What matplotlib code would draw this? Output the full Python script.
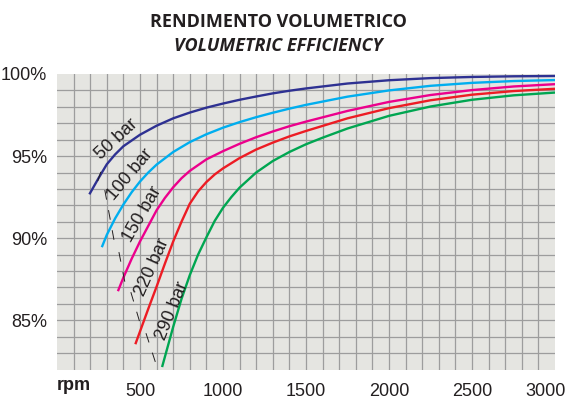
import numpy as np
import matplotlib.pyplot as plt
import matplotlib.transforms as mtransforms

# curve data (rpm, volumetric efficiency %)
rpm_50 = [195, 250, 300, 350, 400, 500, 600, 700, 800, 900, 1000, 1100, 1200, 1300, 1400, 1500,
          1750, 2000, 2250, 2500, 2750, 3000]
eff_50 = [92.67, 93.65, 94.5, 95.1, 95.6, 96.3, 96.85, 97.3, 97.65, 97.95, 98.2, 98.43, 98.63, 98.82,
          98.98, 99.12, 99.42, 99.62, 99.75, 99.82, 99.86, 99.88]

rpm_100 = [270, 300, 350, 400, 450, 500, 550, 600, 700, 800, 900, 1000, 1100, 1200, 1300, 1400, 1500,
           1750, 2000, 2250, 2500, 2750, 3000]
eff_100 = [89.45, 90.2, 91.2, 92.05, 92.8, 93.45, 94.0, 94.48, 95.25, 95.85, 96.33, 96.73, 97.07,
           97.37, 97.64, 97.89, 98.12, 98.62, 99.0, 99.28, 99.46, 99.57, 99.63]

rpm_150 = [367, 400, 450, 500, 550, 600, 650, 700, 750, 800, 900, 1000, 1100, 1200, 1300, 1400, 1500,
           1750, 2000, 2250, 2500, 2750, 3000]
eff_150 = [86.77, 87.6, 88.75, 89.8, 90.75, 91.7, 92.45, 93.1, 93.65, 94.1, 94.8, 95.3, 95.75, 96.15,
           96.5, 96.82, 97.1, 97.75, 98.3, 98.72, 99.02, 99.24, 99.38]

rpm_220 = [472, 550, 600, 650, 700, 750, 800, 850, 900, 950, 1000, 1100, 1200, 1300, 1400, 1500,
           1750, 2000, 2250, 2500, 2750, 3000]
eff_220 = [83.54, 85.7, 87.05, 88.45, 89.8, 91.0, 92.1, 92.85, 93.42, 93.88, 94.25, 94.88, 95.4,
           95.82, 96.2, 96.53, 97.3, 97.92, 98.4, 98.74, 98.96, 99.1]

rpm_290 = [633, 700, 750, 800, 850, 900, 950, 1000, 1050, 1100, 1200, 1300, 1400, 1500, 1600,
           1750, 2000, 2250, 2500, 2750, 3000]
eff_290 = [82.15, 84.6, 86.3, 87.75, 89.0, 90.05, 91.05, 91.85, 92.5, 93.08, 94.0, 94.7, 95.25,
           95.72, 96.12, 96.68, 97.45, 98.02, 98.43, 98.7, 98.87]

curves = [
    (rpm_50, eff_50, '#2e3192'),
    (rpm_100, eff_100, '#00aeef'),
    (rpm_150, eff_150, '#ec008c'),
    (rpm_220, eff_220, '#ed1c24'),
    (rpm_290, eff_290, '#00a651'),
]

# curve labels: text, position, rotation
label_txt = ['50 bar', '100 bar', '150 bar', '220 bar', '290 bar']
label_rpm = [361, 442, 515, 576, 694]
label_eff = [96.04, 93.84, 91.46, 88.23, 85.55]
label_rot = [43, 50, 60, 66, 68]

# dashed leaders under the labels
lead_rpm = [(245, 270), (288, 348), (373, 415), (445, 506), (536, 603)]
lead_eff = [(93.48, 94.21), (92.93, 89.63), (89.15, 87.01), (86.71, 84.63), (84.21, 82.13)]

x_ticks = [500, 1000, 1500, 2000, 2500, 3000]
y_ticks = [85, 90, 95, 100]

tick_font = ['Liberation Sans Narrow', 'Liberation Sans', 'DejaVu Sans']
dark = '#231f20'

fig = plt.figure(figsize=(5.72, 4.05), dpi=100)
ax = fig.add_axes([57/572, 35.5/405, 498/572, 295.5/405])
ax.set_facecolor('#e5e5e1')
for s in ax.spines.values():
    s.set_visible(False)

ax.set_xlim(0, 3000)
ax.set_ylim(82, 100)
ax.set_xticks(x_ticks)
ax.set_xticklabels([str(v) for v in x_ticks])
ax.set_yticks(y_ticks)
ax.set_yticklabels(['%d%%' % v for v in y_ticks])
ax.xaxis.remove_overlapping_locs = False
ax.yaxis.remove_overlapping_locs = False
ax.set_xticks(np.arange(100, 3000, 100), minor=True)
ax.set_yticks(np.arange(83, 100, 1), minor=True)
ax.grid(which='minor', color='#9d9d9d', lw=0.9)
ax.grid(which='major', visible=False)
ax.set_axisbelow(True)
ax.tick_params(which='both', length=0)
ax.tick_params(axis='x', pad=9.5)
ax.tick_params(axis='y', pad=7)
for lab in ax.get_xticklabels() + ax.get_yticklabels():
    lab.set_family(tick_font)
    lab.set_fontsize(13)
    lab.set_color(dark)
# last x label sits a bit left of its tick
last = ax.get_xticklabels()[-1]
last.set_transform(last.get_transform() + mtransforms.ScaledTranslation(-9/100, 0, fig.dpi_scale_trans))

for r, e, c in curves:
    ax.plot(r, e, color=c, lw=1.7, solid_capstyle='butt', solid_joinstyle='round')

for i in range(len(label_txt)):
    ax.text(label_rpm[i], label_eff[i], label_txt[i], rotation=label_rot[i],
            rotation_mode='anchor', ha='center', va='center', fontsize=13,
            family=['Liberation Sans', 'DejaVu Sans'], color=dark)
    ax.plot(lead_rpm[i], lead_eff[i], color=dark, lw=0.7, dashes=(10, 11))

fig.text(57/572, 1 - 386/405, 'rpm', ha='left', va='center', fontsize=13,
         weight='bold', family=tick_font, color=dark)
fig.text(0.486, 0.946, 'RENDIMENTO VOLUMETRICO', ha='center', va='center',
         fontsize=13, weight='bold', family=['Open Sans', 'DejaVu Sans'], color=dark)
fig.text(0.486, 0.886, 'VOLUMETRIC EFFICIENCY', ha='center', va='center',
         fontsize=13, weight='bold', style='italic', family=['Open Sans', 'DejaVu Sans'], color=dark)

fig.savefig('out.png', dpi=100)
